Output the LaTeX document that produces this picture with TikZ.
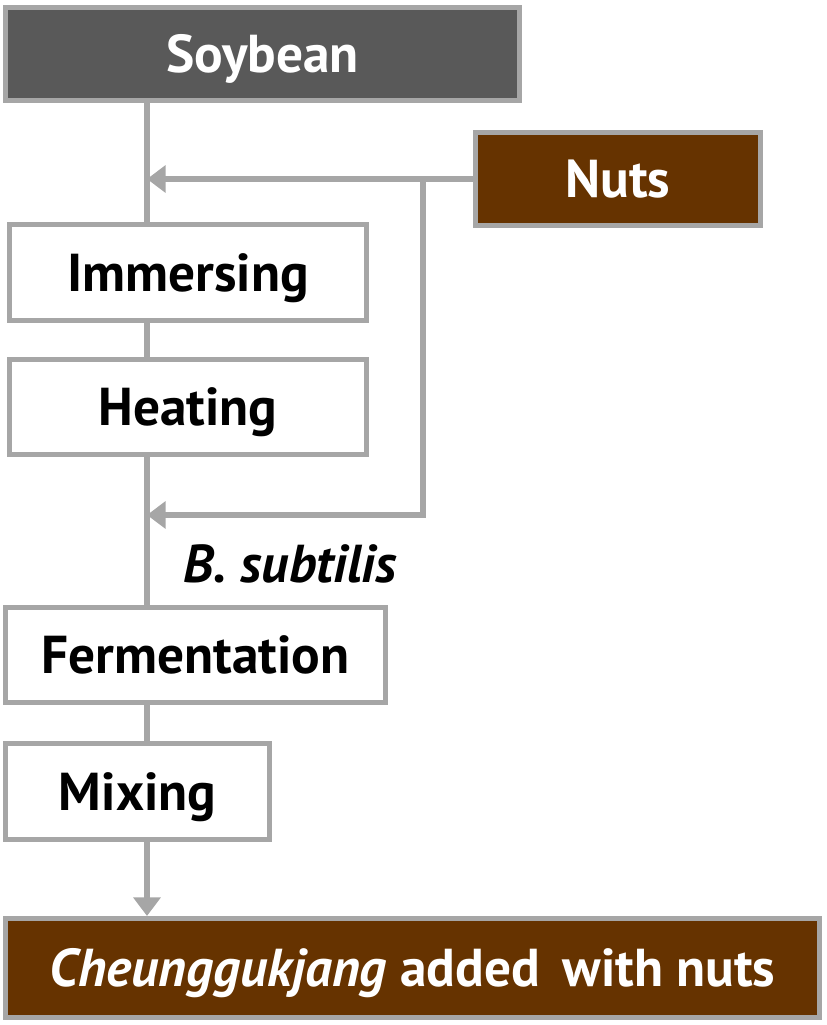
\documentclass[tikz,border=0pt]{standalone}
\usepackage{fontspec}
\setmainfont{PT Sans}
\usetikzlibrary{arrows.meta}
\definecolor{bordergray}{HTML}{A6A6A6}
\definecolor{darkgray}{HTML}{595959}
\definecolor{nutbrown}{HTML}{663300}
\tikzset{
  stepbox/.style={draw=bordergray, line width=3.75pt, fill=white, inner sep=0pt,
    font=\fontsize{40}{46}\selectfont\bfseries, text=black, text height=28pt, text depth=0pt},
  darkbox/.style={stepbox, fill=darkgray, text=white},
  brownbox/.style={stepbox, fill=nutbrown, text=white},
  conn/.style={draw=bordergray, line width=4.5pt},
  arr/.style={conn, -{Triangle[length=14pt, width=20pt]}}
}
\begin{document}
\begin{tikzpicture}[x=0.75pt, y=-0.75pt]
\useasboundingbox (0,0) rectangle (827,1025);
\node[darkbox, minimum width=385.5pt, minimum height=69.75pt] (soy) at (262.5,54) {Soybean};
\node[brownbox, minimum width=213.75pt, minimum height=69.75pt] (nuts) at (618,179) {Nuts};
\node[stepbox, minimum width=267.75pt, minimum height=72pt] (imm) at (188,272.5) {Immersing};
\node[stepbox, minimum width=267.75pt, minimum height=71.25pt] (heat) at (188,407) {Heating};
\node[stepbox, minimum width=285pt, minimum height=71.25pt] (ferm) at (195.5,655) {Fermentation};
\node[stepbox, minimum width=198pt, minimum height=72pt] (mix) at (137.5,791.5) {Mixing};
\node[brownbox, minimum width=610.5pt, minimum height=74.25pt] (final) at (412.5,968) {\textit{Cheunggukjang} added\, with nuts};
\node[font=\fontsize{40}{46}\selectfont\bfseries\itshape, text height=28pt, text depth=0pt] (bs) at (290,564) {B. subtilis};
% main line
\coordinate (mtop) at (147,103);
\coordinate (j1) at (147,179);
\coordinate (j2) at (147,515);
\coordinate (br1) at (423,179);
\coordinate (br2) at (423,515);
\draw[conn] (soy.south -| mtop) -- (imm.north -| mtop);
\draw[conn] (imm.south -| mtop) -- (heat.north -| mtop);
\draw[conn] (heat.south -| mtop) -- (ferm.north -| mtop);
\draw[conn] (ferm.south -| mtop) -- (mix.north -| mtop);
\draw[arr] (mix.south -| mtop) -- (final.north -| mtop);
\draw[arr] (nuts.west) -- (j1);
\draw[arr] (br1) -- (br2) -- (j2);
\end{tikzpicture}
\end{document}
